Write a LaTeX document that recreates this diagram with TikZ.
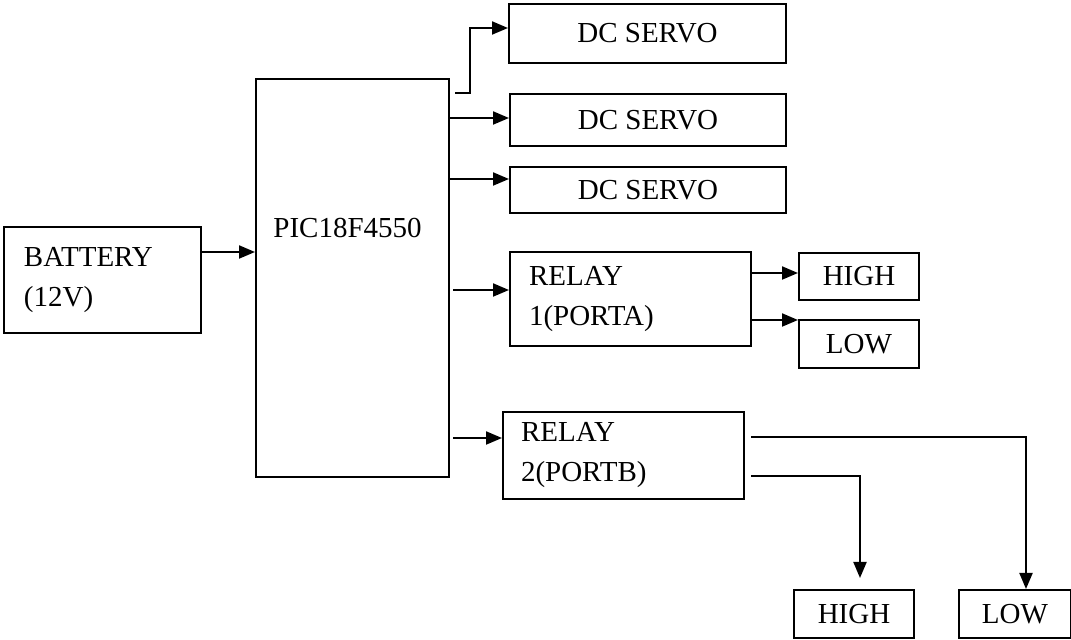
\documentclass[tikz,border=0pt]{standalone}
\usepackage{fontspec}
\setmainfont{Liberation Serif}
\usetikzlibrary{arrows.meta}
\begin{document}
\begin{tikzpicture}[x=0.5pt,y=-0.5pt,
  box/.style={draw, line width=1pt, rectangle, inner sep=0pt, anchor=north west,
    font=\fontsize{14.5}{20}\selectfont},
  lbox/.style={box, align=left, inner xsep=10pt},
  arr/.style={line width=1pt, -{Triangle[length=8pt,width=6.5pt]}},
  lbl/.style={font=\fontsize{14.5}{20}\selectfont, inner sep=0pt}]
\useasboundingbox (0,0) rectangle (1071,640);
% boxes
\node[lbox, minimum width=98.5pt, minimum height=53pt, text width=78.5pt] (bat) at (3,226) {BATTERY\\(12V)};
\node[box, minimum width=96.5pt, minimum height=199pt] (pic) at (255,78) {};
\node[lbl, anchor=base west] (piclbl) at (273,238) {PIC18F4550};
\node[box, minimum width=138.5pt, minimum height=29.5pt] (s1) at (508,3) {DC SERVO};
\node[box, minimum width=138pt, minimum height=26pt] (s2) at (509,93) {DC SERVO};
\node[box, minimum width=138pt, minimum height=23pt] (s3) at (509,166) {DC SERVO};
\node[lbox, inner xsep=9.5pt, minimum width=120.5pt, minimum height=47pt, text width=101.5pt] (r1) at (509,251) {RELAY\\1(PORTA)};
\node[box, minimum width=60pt, minimum height=23.5pt] (hi1) at (798,252) {HIGH};
\node[box, minimum width=60pt, minimum height=24pt] (lo1) at (798,319) {LOW};
\node[lbox, inner xsep=9pt, minimum width=120.5pt, minimum height=43.5pt, text width=102.5pt] (r2) at (502,411) {RELAY\\2(PORTB)};
\node[box, minimum width=60pt, minimum height=24pt] (hi2) at (793,589) {HIGH};
\node[box, minimum width=56pt, minimum height=24pt] (lo2) at (958,589) {LOW};
% connectors
\draw[arr] (bat.east |- 0,252) -- (pic.west |- 0,252);
\coordinate (p1) at (455,93);
\draw[arr] (p1) -- ++(15,0) |- (s1.west |- 0,28);
\draw[arr] (pic.east |- 0,118) -- (s2.west |- 0,118);
\draw[arr] (pic.east |- 0,179) -- (s3.west |- 0,179);
\coordinate (p4) at (453,290);
\draw[arr] (p4) -- (r1.west |- p4);
\draw[arr] (r1.east |- 0,273) -- (hi1.west |- 0,273);
\draw[arr] (r1.east |- 0,320) -- (lo1.west |- 0,320);
\coordinate (p5) at (453,438);
\draw[arr] (p5) -- (r2.west |- p5);
\coordinate (q1) at (751,437);
\draw[arr] (q1) -| (lo2.north -| 1026,0);
\coordinate (q2) at (751,476);
\path (hi2.north) ++(0,-11) coordinate (h2t);
\draw[arr] (q2) -| (h2t -| 860,0);
\end{tikzpicture}
\end{document}
